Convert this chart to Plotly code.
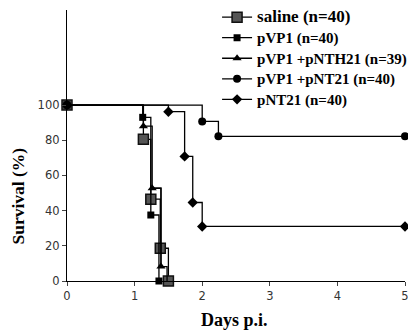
import plotly.graph_objects as go

saline_x = [0, 1.13, 1.24, 1.38, 1.50]
saline_y = [100, 80.5, 46.5, 18.6, 0]
pvp1_x = [0, 1.12, 1.24, 1.36]
pvp1_y = [100, 93, 37.5, 0]
pnth_x = [0, 1.13, 1.26, 1.39, 1.48]
pnth_y = [100, 88, 52.7, 8.2, 0]
pnt_combo_x = [0, 2.0, 2.24, 5]
pnt_combo_y = [100, 90.7, 82.2, 82.2]
pnt21_x = [0, 1.5, 1.74, 1.86, 2.0, 5]
pnt21_y = [100, 96.2, 70.8, 44.6, 31, 31]

labels = ["saline (n=40)", "pVP1 (n=40)", "pVP1 +pNTH21 (n=39)",
          "pVP1 +pNT21 (n=40)", "pNT21 (n=40)"]
sizes = [17, 15, 15, 15, 15]
names = [f"<span style='font-size:{s}px'>{t}</span>" for t, s in zip(labels, sizes)]

fig = go.Figure()
lw = 1.3
fig.add_trace(go.Scatter(x=saline_x, y=saline_y, name=names[0], mode="lines+markers",
                         line=dict(shape="hv", color="black", width=lw),
                         marker=dict(symbol="square", size=10, color="#555555",
                                     line=dict(color="#111111", width=1.5)),
                         cliponaxis=False))
fig.add_trace(go.Scatter(x=pvp1_x, y=pvp1_y, name=names[1], mode="lines+markers",
                         line=dict(shape="hv", color="black", width=lw),
                         marker=dict(symbol="square", size=7, color="black"),
                         cliponaxis=False))
fig.add_trace(go.Scatter(x=pnth_x[:-1], y=pnth_y[:-1], name=names[2], mode="lines+markers",
                         line=dict(shape="hv", color="black", width=lw),
                         marker=dict(symbol="triangle-up", size=8, color="black"),
                         cliponaxis=False))
fig.add_trace(go.Scatter(x=pnth_x[-3:], y=pnth_y[-3:], mode="lines", showlegend=False,
                         line=dict(shape="hv", color="black", width=lw),
                         cliponaxis=False))
fig.add_trace(go.Scatter(x=pnt_combo_x, y=pnt_combo_y, name=names[3], mode="lines+markers",
                         line=dict(shape="hv", color="black", width=lw),
                         marker=dict(symbol="circle", size=8, color="black"),
                         cliponaxis=False))
fig.add_trace(go.Scatter(x=pnt21_x, y=pnt21_y, name=names[4], mode="lines+markers",
                         line=dict(shape="hv", color="black", width=lw),
                         marker=dict(symbol="diamond", size=8, color="black"),
                         cliponaxis=False))

fig.update_layout(
    width=408, height=327,
    margin=dict(l=59, r=11, t=2, b=54, autoexpand=False),
    plot_bgcolor="white", paper_bgcolor="white",
    showlegend=True,
    legend=dict(xref="paper", x=0.444, yref="paper", y=1.03, xanchor="left", yanchor="top",
                font=dict(family="Liberation Serif", size=13.5, color="black", weight="bold"),
                bgcolor="rgba(0,0,0,0)", tracegroupgap=0),
    xaxis=dict(range=[0, 5], tickvals=[0, 1, 2, 3, 4, 5], ticks="outside", ticklen=4,
               showline=True, linecolor="black", linewidth=1.3, showgrid=False, zeroline=False,
               automargin=False,
               tickfont=dict(family="DejaVu Sans", size=11.5, color="#333333")),
    yaxis=dict(range=[0, 154], tickvals=[0, 20, 40, 60, 80, 100], ticks="outside", ticklen=4,
               showline=True, linecolor="black", linewidth=1.3, showgrid=False, zeroline=False,
               automargin=False,
               tickfont=dict(family="DejaVu Sans", size=11.5, color="#333333")),
    annotations=[
        dict(text="Days p.i.", xref="paper", yref="paper", x=0.497, y=-0.144,
             xanchor="center", yanchor="middle", showarrow=False,
             font=dict(family="Liberation Serif", size=18, color="black", weight="bold")),
        dict(text="Survival (%)", xref="paper", yref="paper", x=-0.146, y=0.314,
             xanchor="center", yanchor="middle", showarrow=False, textangle=-90,
             font=dict(family="Liberation Serif", size=17.5, color="black", weight="bold")),
    ],
)

fig.write_html("out.html")
